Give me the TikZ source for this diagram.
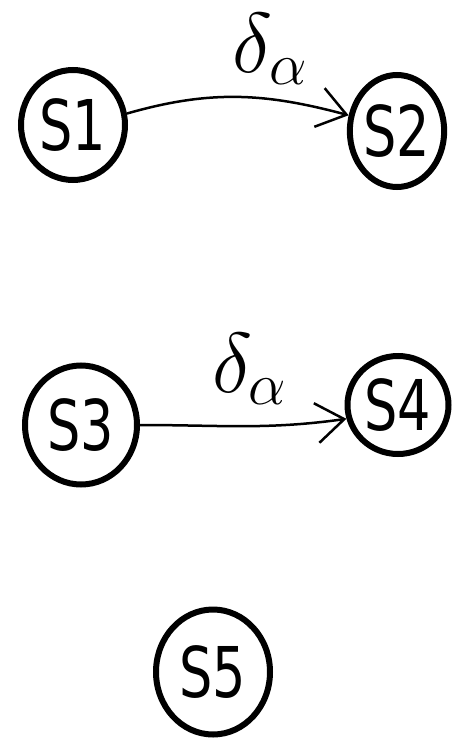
\RequirePackage{fix-cm}
\documentclass[tikz,border=0pt]{standalone}
\usepackage{fontspec}
\newfontfamily\statefont[FakeStretch=0.75]{DejaVu Sans}
\usetikzlibrary{shapes.geometric, arrows.meta, positioning}
\tikzset{
  statenode/.style={ellipse, draw=black, line width=6pt, inner sep=0pt,
              font=\statefont\fontsize{70}{70}\selectfont},
  trans/.style={-{Straight Barb[length=28pt, width=40pt]}, line width=2.5pt},
  translabel/.style={inner sep=0pt, font=\fontsize{85}{85}\selectfont},
}
\begin{document}
\begin{tikzpicture}[x=1pt, y=-1pt]
  \useasboundingbox (0,0) rectangle (453,741);
  % states
  \node[statenode, minimum width=104pt, minimum height=110pt] (s1) at (73,125) {S1};
  \node[statenode, minimum width=94pt, minimum height=112pt] (s2) at (397,131) {S2};
  \node[statenode, minimum width=112pt, minimum height=119pt] (s3) at (81,425) {S3};
  \node[statenode, minimum width=101pt, minimum height=98pt] (s4) at (398,405) {S4};
  \node[statenode, minimum width=114pt, minimum height=125pt] (s5) at (213,672) {S5};
  % transitions
  \draw[trans] (s1.12) to[out=16, in=165]
    node[translabel, above=11pt, xshift=32pt] {$\delta_\alpha$} (s2.162);
  \draw[trans] (s3.east) to[out=0, in=188]
    node[translabel, above=20pt, xshift=6pt] {$\delta_\alpha$} (s4.195);
\end{tikzpicture}
\end{document}
